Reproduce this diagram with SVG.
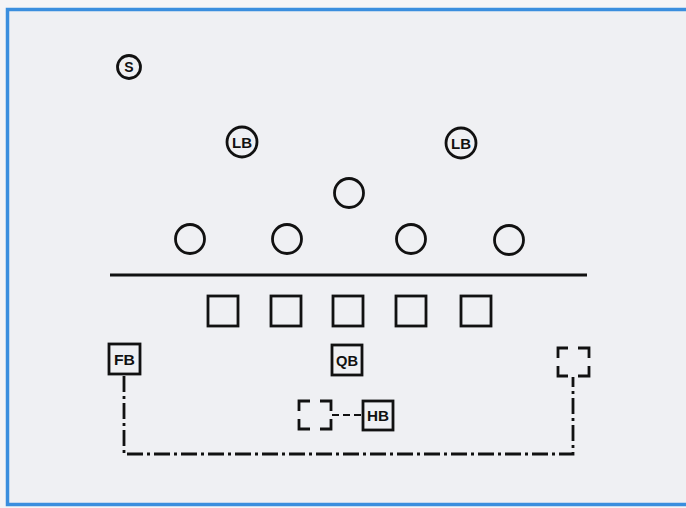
<svg xmlns="http://www.w3.org/2000/svg" width="686" height="508" viewBox="0 0 686 508">
<style>
.p{fill:none;stroke:#111;stroke-width:2.8}
.sq{fill:none;stroke:#111;stroke-width:2.8}
.t{font-family:"Liberation Sans",Arial,sans-serif;font-weight:bold;fill:#111;text-anchor:middle}
.dd{fill:none;stroke:#111;stroke-width:2.8;stroke-dasharray:16 4 3 4}
.ds{fill:none;stroke:#111;stroke-width:2.2;stroke-dasharray:7 4}
.br{fill:none;stroke:#111;stroke-width:2.8}
</style>
<rect x="0" y="0" width="686" height="508" fill="#f4f4f6"/>
<rect x="7.5" y="9.5" width="690" height="495" fill="#eff0f3" stroke="#3a8ede" stroke-width="3.5"/>
<line x1="110" y1="275" x2="587" y2="275" stroke="#111" stroke-width="2.8"/>
<g id="connectors">
<path class="dd" d="M124,376 V454 H573 V377"/>
<line class="ds" x1="332" y1="415" x2="362" y2="415"/>
</g>
<g id="S"><circle class="p" cx="129" cy="67" r="11.5"/><text class="t" x="129" y="72" font-size="14">S</text></g>
<g id="LB1"><circle class="p" cx="242" cy="142" r="15"/><text class="t" x="242" y="147.5" font-size="15" textLength="20" lengthAdjust="spacingAndGlyphs">LB</text></g>
<g id="LB2"><circle class="p" cx="461" cy="143" r="15"/><text class="t" x="461" y="148.5" font-size="15" textLength="20" lengthAdjust="spacingAndGlyphs">LB</text></g>
<g id="D1"><circle class="p" cx="349" cy="193" r="14.5"/></g>
<g id="D2"><circle class="p" cx="190" cy="239" r="14.5"/></g>
<g id="D3"><circle class="p" cx="287" cy="239" r="14.5"/></g>
<g id="D4"><circle class="p" cx="411" cy="239" r="14.5"/></g>
<g id="D5"><circle class="p" cx="509" cy="240" r="14.5"/></g>
<g id="OL1"><rect class="sq" x="208" y="296" width="30" height="30"/></g>
<g id="OL2"><rect class="sq" x="271" y="296" width="30" height="30"/></g>
<g id="OL3"><rect class="sq" x="333" y="296" width="30" height="30"/></g>
<g id="OL4"><rect class="sq" x="396" y="296" width="30" height="30"/></g>
<g id="OL5"><rect class="sq" x="461" y="296" width="30" height="30"/></g>
<g id="FB"><rect class="sq" x="109" y="344" width="31" height="30"/><text class="t" x="124.5" y="364.5" font-size="15" textLength="21" lengthAdjust="spacingAndGlyphs">FB</text></g>
<g id="QB"><rect class="sq" x="332" y="345" width="30" height="30"/><text class="t" x="347" y="365.5" font-size="15" textLength="22" lengthAdjust="spacingAndGlyphs">QB</text></g>
<g id="HB"><rect class="sq" x="363" y="401" width="30" height="29"/><text class="t" x="378" y="421" font-size="15" textLength="22" lengthAdjust="spacingAndGlyphs">HB</text></g>
<g id="HBold">
<path class="br" d="M310,401 H299 V411 M299,419 V429 H310 M320,401 H331 V411 M331,419 V429 H320"/>
</g>
<g id="TE">
<path class="br" d="M568,348 H558 V358 M558,366 V376 H568 M578,348 H589 V358 M589,366 V376 H578"/>
</g>
</svg>
